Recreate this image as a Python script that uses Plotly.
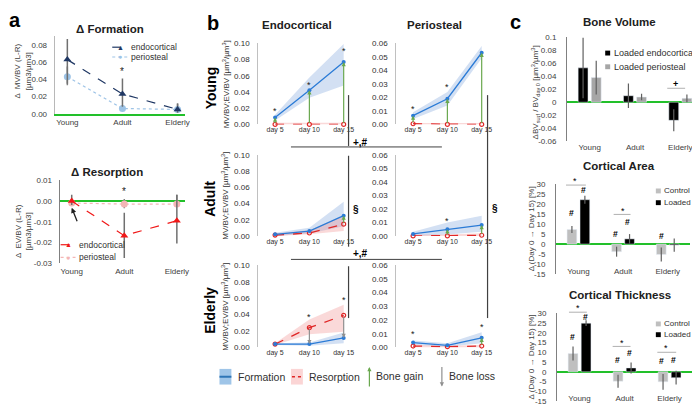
import plotly.graph_objects as go

FONT = "Liberation Sans, Arial, sans-serif"
W, H = 700, 406
GREEN = "#22c02a"
NAVY = "#203864"
LIGHTBLUE = "#9dc3e6"
RED = "#f01818"
PINK = "#f4b6b6"
BLUE = "#2b7bd6"

# ---------------- panel a : loaded minus right limb ----------------
groups = ["Young", "Adult", "Elderly"]
group_x = [0, 1, 2]

form_endo = [0.063, 0.023, 0.005]
form_endo_up = [0.024, 0.018, 0.007]
form_endo_dn = [0.028, 0.015, 0.004]
form_peri = [0.043, 0.006, 0.005]
form_peri_up = [0.012, 0.004, 0.007]
form_peri_dn = [0.010, 0.003, 0.003]
form_star = [None, 0.049, None]
form_ticks = [0, 0.02, 0.04, 0.06, 0.08]

res_endo = [0.0, -0.0167, -0.0095]
res_endo_up = [0.003, 0.011, 0.0125]
res_endo_dn = [0.002, 0.0107, 0.011]
res_peri = [-0.001, -0.0015, -0.0015]
res_peri_up = [0.001, 0.0025, 0.0045]
res_peri_dn = [0.001, 0.002, 0.001]
res_star = [None, 0.0047, None]
res_tickvals = [0.01, 0, -0.01, -0.02, -0.03]
res_ticktext = ["0.01", "0.00", "-0.01", "-0.02", "-0.03"]

# ---------------- panel b : time course (young/adult/elderly x endo/peri) ----------------
days = [5, 10, 15]
day_labels = ["day 5", "day 10", "day 15"]
b_rows = ["Young", "Adult", "Elderly"]
b_cols = ["Endocortical", "Periosteal"]

b_form = [
    [0.0085, 0.042, 0.077],
    [0.0065, 0.019, 0.053],
    [0.002, 0.006, 0.025],
    [0.0015, 0.005, 0.008],
    [0.004, 0.004, 0.0115],
    [0.0035, 0.0015, 0.007],
]
b_form_lo = [
    [0.005, 0.033, 0.048],
    [0.004, 0.014, 0.049],
    [0.0, 0.003, 0.012],
    [0.0, 0.001, 0.003],
    [0.003, 0.002, 0.005],
    [0.002, 0.0005, 0.003],
]
b_form_hi = [
    [0.012, 0.058, 0.099],
    [0.009, 0.024, 0.058],
    [0.004, 0.010, 0.042],
    [0.003, 0.010, 0.015],
    [0.005, 0.006, 0.018],
    [0.005, 0.003, 0.011],
]
b_res = [
    [0.0, 0.0, 0.0],
    [0.0005, 0.0, 0.0],
    [0.001, 0.0036, 0.0145],
    [0.0, 0.0, 0.0005],
    [0.004, 0.024, 0.039],
    [0.001, 0.0005, 0.001],
]
b_res_lo = [
    [0.0, 0.0, 0.0],
    [0.0, 0.0, 0.0],
    [0.0, 0.002, 0.006],
    [0.0, 0.0, 0.0],
    [0.003, 0.016, 0.019],
    [0.0, 0.0, 0.0],
]
b_res_hi = [
    [0.002, 0.002, 0.002],
    [0.001, 0.001, 0.001],
    [0.003, 0.007, 0.025],
    [0.001, 0.001, 0.002],
    [0.005, 0.034, 0.052],
    [0.002, 0.001, 0.002],
]
b_star = [
    [0.016, 0.049, 0.09],
    [0.0116, 0.028, 0.062],
    [None, None, None],
    [None, 0.011, None],
    [None, 0.037, 0.058],
    [0.010, None, 0.015],
]

# ---------------- panel c : bars ----------------
bv_endo = [0.053, 0.010, -0.028]
bv_endo_err = [0.047, 0.019, 0.017]
bv_peri = [0.038, 0.008, 0.006]
bv_peri_err = [0.026, 0.005, 0.006]
bv_tickvals = [-0.06, -0.04, -0.02, 0, 0.02, 0.04, 0.06, 0.08, 0.1]
bv_ticktext = ["-0.06", "-0.04", "-0.02", "0", "0.02", "0.04", "0.06", "0.08", "0.1"]

ca_ctrl = [7.3, -3.8, -5.2]
ca_ctrl_err = [1.8, 2.5, 3.5]
ca_load = [22.2, 2.6, -0.5]
ca_load_err = [2.0, 2.4, 3.3]

ct_ctrl = [9.4, -4.8, -5.1]
ct_ctrl_err = [3.6, 3.3, 4.0]
ct_load = [24.9, 2.0, -3.0]
ct_load_err = [1.5, 2.8, 3.5]

pct_tickvals = [-15, -10, -5, 0, 5, 10, 15, 20, 25, 30]
pct_ticktext = ["-15", "-10", "-5", "0", "5", "10", "15", "20", "25", "30"]


def px(x):
    return x / W


def py(y):
    return 1 - y / H


layout = dict(
    width=W, height=H, margin=dict(l=0, r=0, t=0, b=0),
    paper_bgcolor="white", plot_bgcolor="rgba(0,0,0,0)",
    showlegend=False, font=dict(family=FONT, size=8, color="#404040"),
    barmode="group", bargap=0.42, bargroupgap=0.25,
)
traces, annotations, shapes = [], [], []


def set_axes(n, x0, x1, ytop, ybot, xr, yr, xopt=None, yopt=None):
    s = "" if n == 1 else str(n)
    xa = dict(domain=[px(x0), px(x1)], range=xr, anchor="y" + s, showgrid=False,
              zeroline=False, showline=False, ticks="", fixedrange=True,
              tickfont=dict(size=8, color="#404040", family=FONT))
    ya = dict(domain=[py(ybot), py(ytop)], range=yr, anchor="x" + s, showgrid=False,
              zeroline=False, showline=False, ticks="", fixedrange=True,
              tickfont=dict(size=8, color="#404040", family=FONT))
    xa.update(xopt or {})
    ya.update(yopt or {})
    layout["xaxis" + s] = xa
    layout["yaxis" + s] = ya
    return "x" + s, "y" + s


def text(x, y, s, size=8, bold=False, angle=0, xanchor="center", color="#000000"):
    annotations.append(dict(
        x=px(x), y=py(y), xref="paper", yref="paper", showarrow=False,
        text=f"<b>{s}</b>" if bold else s, textangle=angle, borderpad=0,
        xanchor=xanchor, yanchor="middle",
        font=dict(size=size, color=color, family=FONT)))


def line(x0, y0, x1, y1, color="#404040", width=1, dash="solid"):
    shapes.append(dict(type="line", xref="paper", yref="paper",
                       x0=px(x0), x1=px(x1), y0=py(y0), y1=py(y1),
                       line=dict(color=color, width=width, dash=dash)))


def legend_key(x0, x1, y, color, dash, symbol, label, size=8.5):
    line(x0, y, x1, y, color=color, width=1.2, dash=dash)
    text((x0 + x1) / 2, y, symbol, size=7, color=color)
    text(x1 + 2, y, label, size=size, xanchor="left", color="#303030")


# ---------------- panel a ----------------
xa, ya = set_axes(1, 47, 178, 25, 104, [-0.23, 2.13], [0, 0.09],
                  xopt=dict(tickvals=group_x, ticktext=groups, showline=True,
                            linecolor=GREEN, linewidth=2, ticklabelstandoff=0),
                  yopt=dict(tickvals=form_ticks, tickformat=".2f", showline=True,
                            linecolor="#b8b8b8", ticklabelstandoff=5))
traces.append(go.Scatter(x=group_x, y=form_peri, mode="lines+markers", xaxis=xa, yaxis=ya,
                         line=dict(color=LIGHTBLUE, dash="dot", width=1.2),
                         marker=dict(symbol="circle", size=7, color=LIGHTBLUE),
                         error_y=dict(type="data", array=form_peri_up, arrayminus=form_peri_dn,
                                      color="#808080", thickness=1.5, width=0),
                         cliponaxis=False))
traces.append(go.Scatter(x=group_x, y=form_endo, mode="lines+markers", xaxis=xa, yaxis=ya,
                         line=dict(color=NAVY, dash="dash", width=1.2),
                         marker=dict(symbol="triangle-up", size=7, color=NAVY),
                         error_y=dict(type="data", array=form_endo_up, arrayminus=form_endo_dn,
                                      color="#707070", thickness=1.5, width=0),
                         cliponaxis=False))
for gx, sy in zip(group_x, form_star):
    if sy is not None:
        annotations.append(dict(x=gx, y=sy, xref=xa, yref=ya, text="*", showarrow=False,
                                font=dict(size=10, color="#202020", family=FONT)))
legend_key(105, 121, 36, NAVY, "dash", "▲", "endocortical")
legend_key(105, 121, 46, LIGHTBLUE, "dot", "●", "periosteal")

xa, ya = set_axes(2, 52, 178, 172, 257, [-0.23, 2.15], [-0.03, 0.01],
                  xopt=dict(tickvals=group_x, ticktext=groups, ticklabelstandoff=2),
                  yopt=dict(tickvals=res_tickvals, ticktext=res_ticktext, showline=True,
                            linecolor="#808080", zeroline=True, zerolinecolor=GREEN,
                            zerolinewidth=2, ticklabelstandoff=5))
traces.append(go.Scatter(x=group_x, y=res_peri, mode="lines+markers", xaxis=xa, yaxis=ya,
                         line=dict(color=PINK, dash="dot", width=1.2),
                         marker=dict(symbol="circle", size=7, color=PINK),
                         error_y=dict(type="data", array=res_peri_up, arrayminus=res_peri_dn,
                                      color="#808080", thickness=1.5, width=0),
                         cliponaxis=False))
traces.append(go.Scatter(x=group_x, y=res_endo, mode="lines+markers", xaxis=xa, yaxis=ya,
                         line=dict(color=RED, dash="dash", width=1.2),
                         marker=dict(symbol="triangle-up", size=7, color=RED),
                         error_y=dict(type="data", array=res_endo_up, arrayminus=res_endo_dn,
                                      color="#707070", thickness=1.5, width=0),
                         cliponaxis=False))
for gx, sy in zip(group_x, res_star):
    if sy is not None:
        annotations.append(dict(x=gx, y=sy, xref=xa, yref=ya, text="*", showarrow=False,
                                font=dict(size=10, color="#202020", family=FONT)))
annotations.append(dict(x=group_x[0], y=-0.0033, xref=xa, yref=ya, ax=6, ay=15, text="",
                        showarrow=True, arrowhead=2, arrowsize=0.8, arrowwidth=1.3,
                        arrowcolor="#202020"))
legend_key(53, 68, 238, RED, "dash", "▲", "endocortical")
legend_key(53, 68, 251, PINK, "dot", "●", "periosteal")

text(7, 8, "a", size=20, bold=True)
text(103, 17, "Δ Formation", size=11.5, bold=True, color="#202020")
text(100, 164, "Δ Resorption", size=11.5, bold=True, color="#202020")
text(15, 60, "Δ  MV/BV (L-R)<br>[µm3/µm3]", size=8, angle=-90, color="#404040")
text(15, 224, "Δ  EV/BV (L-R)<br>[µm3/µm3]", size=8, angle=-90, color="#404040")

# ---------------- panel b ----------------
col_x = [(252, 345), (391, 484)]
row_y = [(32, 115), (146, 229), (259, 343)]
col_range = [[0, 0.1], [0, 0.06]]
col_dtick = [0.02, 0.01]
for i in range(6):
    r, c = divmod(i, 2)
    xa, ya = set_axes(3 + i, col_x[c][0], col_x[c][1], row_y[r][0], row_y[r][1],
                      [2.54, 16.0], col_range[c],
                      xopt=dict(tickvals=days, ticktext=day_labels,
                                tickfont=dict(size=7, color="#303030", family=FONT)),
                      yopt=dict(dtick=col_dtick[c], tick0=0, tickformat=".2f", showline=True,
                                linecolor="#c0c0c0", ticklabelstandoff=6,
                                tickfont=dict(size=8, color="#303030", family=FONT)))
    traces.append(go.Scatter(x=days + days[::-1], y=b_form_hi[i] + b_form_lo[i][::-1],
                             fill="toself", fillcolor="rgba(130,165,220,0.35)",
                             line=dict(width=0), mode="lines", xaxis=xa, yaxis=ya,
                             hoverinfo="skip"))
    traces.append(go.Scatter(x=days + days[::-1], y=b_res_hi[i] + b_res_lo[i][::-1],
                             fill="toself", fillcolor="rgba(240,130,130,0.3)",
                             line=dict(width=0), mode="lines", xaxis=xa, yaxis=ya,
                             hoverinfo="skip"))
    traces.append(go.Scatter(x=days, y=b_res[i], mode="lines+markers", xaxis=xa, yaxis=ya,
                             line=dict(color="#e02828", dash="dash", width=1.3),
                             marker=dict(symbol="circle-open", size=4, color="#e02828",
                                         line=dict(width=1.2)),
                             cliponaxis=False))
    traces.append(go.Scatter(x=days, y=b_form[i], mode="lines+markers", xaxis=xa, yaxis=ya,
                             line=dict(color=BLUE, width=1.3),
                             marker=dict(symbol="circle", size=4, color=BLUE),
                             cliponaxis=False))
    for d, f, rs, st in zip(days, b_form[i], b_res[i], b_star[i]):
        if f - rs > 0.003:
            annotations.append(dict(x=d, y=f, ax=d, ay=rs, xref=xa, yref=ya, axref=xa, ayref=ya,
                                    text="", showarrow=True, arrowhead=2, arrowsize=0.7,
                                    arrowwidth=1.2, arrowcolor="#6aa84f"))
        elif rs - f > 0.003:
            annotations.append(dict(x=d, y=f, ax=d, ay=rs, xref=xa, yref=ya, axref=xa, ayref=ya,
                                    text="", showarrow=True, arrowhead=2, arrowsize=0.7,
                                    arrowwidth=1.2, arrowcolor="#909090"))
        if st is not None:
            annotations.append(dict(x=d, y=st, xref=xa, yref=ya, text="*", showarrow=False,
                                    font=dict(size=9, color="#202020", family=FONT)))

text(206, 11, "b", size=20, bold=True)
text(291, 13, b_cols[0], size=11.5, bold=True, color="#202020")
text(430, 13, b_cols[1], size=11.5, bold=True, color="#202020")
for r, (t, b) in enumerate(row_y):
    text(204, (t + b) / 2 + 4, b_rows[r], size=14, bold=True, angle=-90)
    text(219, (t + b) / 2, "MV/BV;EV/BV [µm<sup>3</sup>/µm<sup>3</sup>]", size=8, angle=-90,
         color="#303030")

# significance brackets between age groups
line(285, 138, 437, 138)
line(285, 253, 437, 253)
line(343, 85, 343, 137, width=1.2)
line(343, 147, 343, 240, width=1.2)
line(343, 260, 343, 313, width=1.2)
line(483, 85, 483, 313, width=1.2)
text(355, 133, "+,#", size=10, bold=True)
text(355, 247, "+,#", size=10, bold=True)
text(350, 202, "§", size=10, bold=True)
text(491, 201, "§", size=10, bold=True)

# bottom legend of panel b
shapes.append(dict(type="rect", xref="paper", yref="paper", x0=px(213), x1=px(225),
                   y0=py(381), y1=py(365), fillcolor="#9fc5e8", line=dict(width=0)))
line(213, 373, 225, 373, color="#2e75b6", width=2)
text(231, 373, "Formation", size=10.5, xanchor="left", color="#303030")
shapes.append(dict(type="rect", xref="paper", yref="paper", x0=px(285), x1=px(297),
                   y0=py(381), y1=py(365), fillcolor="#fbd5d5", line=dict(width=0)))
line(286, 373, 296, 373, color="#e02828", width=1.5, dash="dot")
text(302, 373, "Resorption", size=10.5, xanchor="left", color="#303030")
annotations.append(dict(x=px(364), y=py(363), xref="paper", yref="paper", ax=0, ay=21,
                        text="", showarrow=True, arrowhead=2, arrowsize=0.7, arrowwidth=1.2,
                        arrowcolor="#6aa84f"))
text(370, 372, "Bone gain", size=10.5, xanchor="left", color="#303030")
annotations.append(dict(x=px(437), y=py(383), xref="paper", yref="paper", ax=0, ay=-21,
                        text="", showarrow=True, arrowhead=2, arrowsize=0.7, arrowwidth=1.2,
                        arrowcolor="#909090"))
text(443, 372, "Bone loss", size=10.5, xanchor="left", color="#303030")

# ---------------- panel c ----------------
err = dict(type="data", color="#606060", thickness=1.2, width=0)

xa, ya = set_axes(9, 563, 700, 26, 132, [-0.5, 2.5], [-0.06, 0.1],
                  xopt=dict(tickvals=group_x, ticktext=groups),
                  yopt=dict(tickvals=bv_tickvals, ticktext=bv_ticktext, showline=True,
                            linecolor="#808080", zeroline=True, zerolinecolor=GREEN,
                            zerolinewidth=2, ticklabelstandoff=8))
traces.append(go.Bar(x=group_x, y=bv_endo, xaxis=xa, yaxis=ya, marker_color="#000000",
                     error_y=dict(err, array=bv_endo_err)))
traces.append(go.Bar(x=group_x, y=bv_peri, xaxis=xa, yaxis=ya, marker_color="#a6a6a6",
                     error_y=dict(err, array=bv_peri_err)))

xa, ya = set_axes(10, 552, 687, 176, 268, [-0.5, 2.5], [-15, 30],
                  xopt=dict(tickvals=group_x, ticktext=groups, ticklabelstandoff=-9),
                  yopt=dict(tickvals=pct_tickvals, ticktext=pct_ticktext, showline=True,
                            linecolor="#808080", zeroline=True, zerolinecolor=GREEN,
                            zerolinewidth=2, ticklabelstandoff=8))
traces.append(go.Bar(x=group_x, y=ca_ctrl, xaxis=xa, yaxis=ya, marker_color="#bfbfbf",
                     error_y=dict(err, array=ca_ctrl_err)))
traces.append(go.Bar(x=group_x, y=ca_load, xaxis=xa, yaxis=ya, marker_color="#000000",
                     error_y=dict(err, array=ca_load_err)))

xa, ya = set_axes(11, 553, 689, 308, 398, [-0.5, 2.5], [-15, 30],
                  xopt=dict(tickvals=group_x, ticktext=groups, ticklabelstandoff=-9),
                  yopt=dict(tickvals=pct_tickvals, ticktext=pct_ticktext, showline=True,
                            linecolor="#808080", zeroline=True, zerolinecolor=GREEN,
                            zerolinewidth=2, ticklabelstandoff=8))
traces.append(go.Bar(x=group_x, y=ct_ctrl, xaxis=xa, yaxis=ya, marker_color="#bfbfbf",
                     error_y=dict(err, array=ct_ctrl_err)))
traces.append(go.Bar(x=group_x, y=ct_load, xaxis=xa, yaxis=ya, marker_color="#000000",
                     error_y=dict(err, array=ct_load_err)))

text(511, 10, "c", size=20, bold=True)
text(616, 10, "Bone Volume", size=11.5, bold=True, color="#202020")
text(615, 158, "Cortical Area", size=11.5, bold=True, color="#202020")
text(616, 289, "Cortical Thickness", size=11.5, bold=True, color="#202020")
text(531, 82, "ΔBV<sub>surf</sub> / BV<sub>day 0</sub> [µm<sup>3</sup>/µm<sup>3</sup>]",
     size=8, angle=-90, color="#404040")
text(527, 222, "Δ (Day 0 → Day 15) [%]", size=8, angle=-90, color="#404040")
text(527, 353, "Δ (Day 0 → Day 15) [%]", size=8, angle=-90, color="#404040")

# bar legends
for (x, y, col, lab) in [(604, 42, "#000000", "Loaded endocortical"),
                         (604, 56, "#a6a6a6", "Loaded periosteal"),
                         (655, 183, "#bfbfbf", "Control"),
                         (655, 195, "#000000", "Loaded"),
                         (655, 319, "#bfbfbf", "Control"),
                         (655, 330, "#000000", "Loaded")]:
    shapes.append(dict(type="rect", xref="paper", yref="paper", x0=px(x - 2.5), x1=px(x + 2.5),
                       y0=py(y + 2.5), y1=py(y - 2.5), fillcolor=col, line=dict(width=0)))
    size = 9 if x < 620 else 8
    text(x + 5, y, lab, size=size, xanchor="left", color="#303030")

# significance marks in panel c
line(664, 78, 682, 78, color="#b0b0b0")
text(672, 74, "+", size=9, bold=True)
for (x0, x1, y) in [(562, 582, 177), (610, 627, 207),
                    (565, 583, 307), (609, 627, 342), (654, 673, 348)]:
    line(x0, y, x1, y, color="#b0b0b0")
for (x, y) in [(571, 173), (619, 203), (574, 303), (618, 338), (663, 344)]:
    text(x, y, "*", size=9)
for (x, y) in [(568, 206), (580, 182), (612, 227), (624, 215), (658, 229),
               (569, 332), (582, 312), (614, 356), (626, 349), (658, 357), (670, 356)]:
    text(x, y, "#", size=8.5, bold=True)

fig = go.Figure(data=traces, layout=layout)
fig.update_layout(annotations=annotations, shapes=shapes)
fig.write_html("out.html")
